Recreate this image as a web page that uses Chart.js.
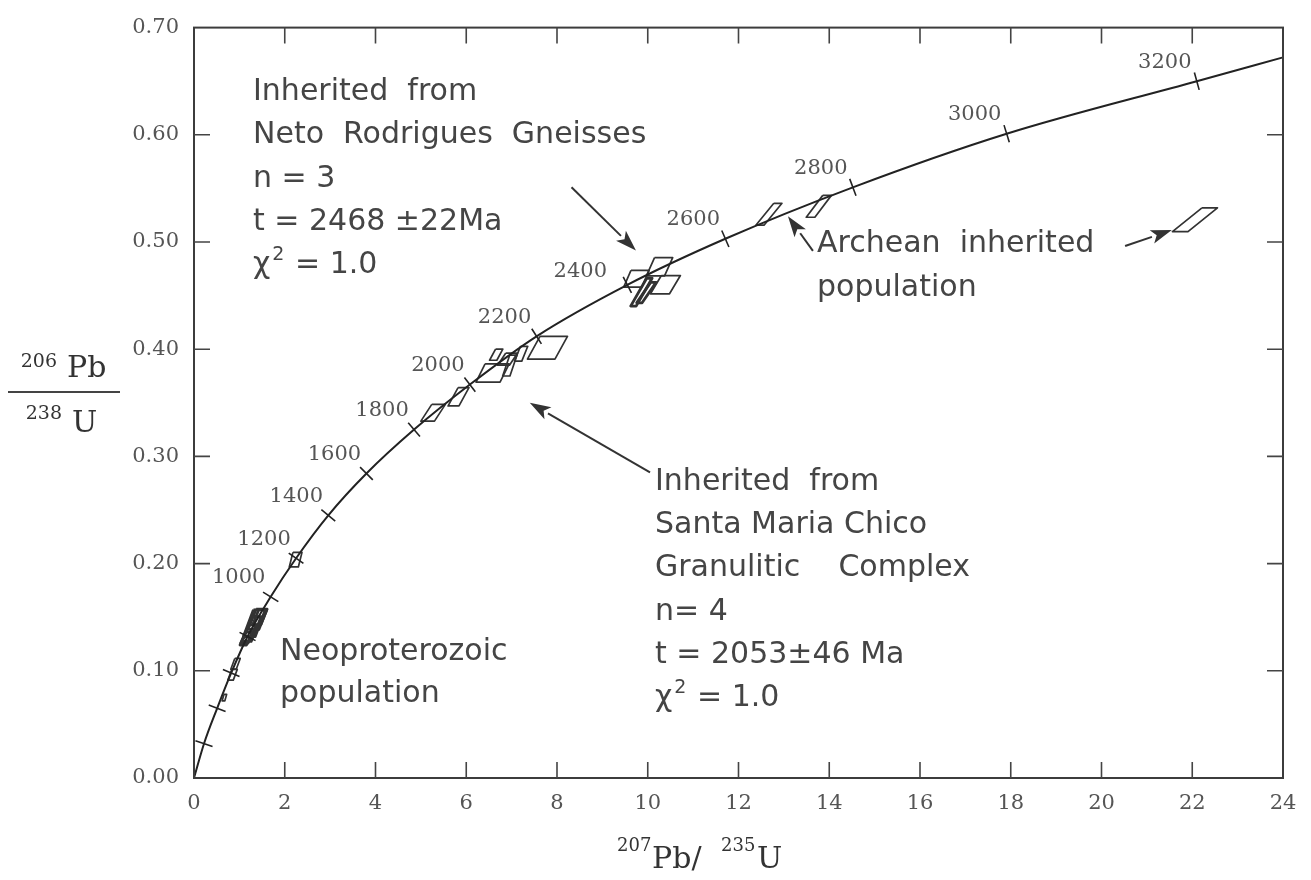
<!DOCTYPE html>
<html><head><meta charset="utf-8">
<script src="https://cdn.jsdelivr.net/npm/chart.js@4.4.1/dist/chart.umd.min.js"></script>
<style>html,body{margin:0;padding:0;background:#fff;}#wrap{width:1311px;height:880px;}</style>
</head><body><div id="wrap"><canvas id="c" width="1311" height="880"></canvas></div>
<script>
// Concordia curve (age in Ma, 207Pb/235U, 206Pb/238U)
const concordiaAge = [0,200,400,600,800,1000,1200,1400,1600,1800,2000,2200,2400,2600,2800,3000,3200,3290];
const concordiaX   = [0,0.22,0.51,0.82,1.18,1.69,2.25,2.96,3.80,4.85,6.08,7.55,9.55,11.71,14.52,17.91,22.10,23.98];
const concordiaY   = [0,0.032,0.065,0.098,0.132,0.169,0.205,0.245,0.284,0.325,0.367,0.412,0.460,0.503,0.551,0.601,0.650,0.672];
const tickAges  = [200,400,600,800,1000,1200,1400,1600,1800,2000,2200,2400,2600,2800,3000,3200];
const labelAges = [1000,1200,1400,1600,1800,2000,2200,2400,2600,2800,3000,3200];

// Axis ticks
const xTickValues = [0,2,4,6,8,10,12,14,16,18,20,22,24];
const yTickValues = [0,0.1,0.2,0.3,0.4,0.5,0.6,0.7];

// Error boxes (centre, half-width, half-height, skew of the top edge)
const boxName = ['b1200','n1','n2','n3','n4','n5','n6','s1','s2','s3','a','b','c','d','e','g2','f','g','h','i','j','k1','k2','ar1','ar2','ar3'];
const boxX    = [2.24,1.33,1.27,1.40,1.20,1.45,1.15,0.915,0.85,0.67,5.27,5.83,6.58,6.66,6.96,6.91,7.21,7.79,9.75,10.26,10.39,9.86,9.97,12.67,13.77,22.06];
const boxY    = [0.2037,0.1444,0.1389,0.1481,0.1343,0.1500,0.1300,0.1065,0.0963,0.0750,0.3407,0.3556,0.3778,0.3949,0.3847,0.3907,0.3958,0.4014,0.4657,0.4769,0.4602,0.4532,0.4528,0.5259,0.5333,0.5208];
const boxHW   = [0.10,0.13,0.10,0.12,0.08,0.09,0.07,0.06,0.06,0.03,0.15,0.12,0.265,0.08,0.08,0.13,0.08,0.303,0.20,0.20,0.21,0.06,0.06,0.09,0.095,0.171];
const boxHH   = [0.0068,0.0125,0.0115,0.0095,0.0085,0.007,0.006,0.005,0.005,0.003,0.0078,0.0085,0.0085,0.0052,0.0097,0.0056,0.0069,0.0106,0.0078,0.0085,0.0085,0.013,0.0095,0.0102,0.0102,0.0111];
const boxSkew = [0.04,0.11,0.11,0.09,0.09,0.066,0.066,0.044,0.044,0.02,0.12,0.11,0.10,0.066,0.077,0.088,0.066,0.138,0.08,0.09,0.12,0.176,0.154,0.198,0.182,0.325];

// Arrows: [fromX, fromY, toX, toY] in data units
const arrowFromX = [8.32, 13.64, 20.52, 10.05];
const arrowFromY = [0.551, 0.4917, 0.4963, 0.2852];
const arrowToX   = [9.74, 13.09, 21.55, 7.40];
const arrowToY   = [0.492, 0.5241, 0.5111, 0.350];

const INK = '#333333';
const concordiaPts = concordiaX.map((x,i)=>({x, y:concordiaY[i]}));
const tickPts = tickAges.map(a=>{const k=concordiaAge.indexOf(a);return {x:concordiaX[k], y:concordiaY[k]};});

function boxPoints(i){
  const cx=boxX[i], cy=boxY[i], w=boxHW[i], h=boxHH[i], s=boxSkew[i];
  return [{x:cx-w+s,y:cy+h},{x:cx+w+s,y:cy+h},{x:cx+w-s,y:cy-h},{x:cx-w-s,y:cy-h},{x:cx-w+s,y:cy+h}];
}
const boxDatasets = boxName.map((nm,i)=>{
  const dense = nm[0]==='n' || nm[0]==='k';
  return {
    label: nm, data: boxPoints(i), showLine: true, pointRadius: 0, tension: 0,
    borderColor: INK, borderWidth: dense ? 2.8 : 1.7, borderJoinStyle: 'round',
    backgroundColor: dense ? 'rgba(60,60,60,0.7)' : 'rgba(0,0,0,0)', fill: dense ? true : false
  };
});

const deco = {
  id: 'deco',
  afterDraw(chart){
    const c = chart.ctx, a = chart.chartArea, xs = chart.scales.x, ys = chart.scales.y;
    c.save();
    // frame
    c.strokeStyle = '#3c3c3c'; c.lineWidth = 2;
    c.strokeRect(a.left, a.top, a.right-a.left, a.bottom-a.top);
    // inward ticks
    c.lineWidth = 1.6; c.strokeStyle = '#444';
    const TL = 16;
    xs.ticks.forEach(t=>{
      if (t.value<=xs.min || t.value>=xs.max) return;
      const p = xs.getPixelForValue(t.value);
      c.beginPath(); c.moveTo(p,a.bottom); c.lineTo(p,a.bottom-TL); c.moveTo(p,a.top); c.lineTo(p,a.top+TL); c.stroke();
    });
    ys.ticks.forEach(t=>{
      if (t.value<=ys.min+1e-9 || t.value>=ys.max-1e-9) return;
      const p = ys.getPixelForValue(t.value);
      c.beginPath(); c.moveTo(a.left,p); c.lineTo(a.left+TL,p); c.moveTo(a.right,p); c.lineTo(a.right-TL,p); c.stroke();
    });
    // age labels on concordia
    c.fillStyle = '#555'; c.font = '21px "DejaVu Serif"'; c.textAlign='center'; c.textBaseline='middle';
    labelAges.forEach(age=>{
      const k = concordiaAge.indexOf(age);
      const px = xs.getPixelForValue(concordiaX[k]), py = ys.getPixelForValue(concordiaY[k]);
      let dx=-32, dy=-19;
      if (age===2400){dx=-47; dy=-13;}
      c.fillText(String(age), px+dx, py+dy);
    });
    // arrows
    c.strokeStyle = INK; c.fillStyle = INK; c.lineWidth = 2;
    arrowFromX.forEach((fx,i)=>{
      const x1=xs.getPixelForValue(fx), y1=ys.getPixelForValue(arrowFromY[i]);
      const x2=xs.getPixelForValue(arrowToX[i]), y2=ys.getPixelForValue(arrowToY[i]);
      const ang=Math.atan2(y2-y1,x2-x1), L=21, W=7;
      const bx=x2-Math.cos(ang)*L, by=y2-Math.sin(ang)*L;
      c.beginPath(); c.moveTo(x1,y1); c.lineTo(bx,by); c.stroke();
      c.beginPath(); c.moveTo(x2,y2);
      c.lineTo(bx+Math.sin(ang)*W, by-Math.cos(ang)*W);
      c.lineTo(bx+Math.cos(ang)*5, by+Math.sin(ang)*5);
      c.lineTo(bx-Math.sin(ang)*W, by+Math.cos(ang)*W);
      c.closePath(); c.fill();
    });
    // annotation text
    c.fillStyle = '#454545'; c.textAlign='left'; c.textBaseline='alphabetic';
    const F = '30px "DejaVu Sans"', FS = '19px "DejaVu Sans"';
    function lines(x, y0, dy, arr){
      arr.forEach((s,i)=>{
        const y=y0+i*dy;
        if (s==='CHI'){
          c.font=F; c.fillText('\u03C7', x, y); const w=c.measureText('\u03C7').width;
          c.font=FS; c.fillText('2', x+w+2, y-13); const w2=c.measureText('2').width;
          c.font=F; c.fillText(' = 1.0', x+w+w2+3, y);
        } else { c.font=F; c.fillText(s, x, y); }
      });
    }
    lines(253, 100, 43.3, ['Inherited  from','Neto  Rodrigues  Gneisses','n = 3','t = 2468 \u00B122Ma','CHI']);
    lines(655, 490, 43.2, ['Inherited  from','Santa Maria Chico','Granulitic    Complex','n= 4','t = 2053\u00B146 Ma','CHI']);
    lines(817, 252, 44, ['Archean  inherited','population']);
    lines(280, 660, 42, ['Neoproterozoic','population']);
    // y axis title (fraction)
    c.fillStyle='#333';
    c.textAlign='right'; c.font='19px "DejaVu Serif"'; c.fillText('206', 57, 367);
    c.textAlign='left'; c.font='30px "DejaVu Serif"'; c.fillText('Pb', 67, 377);
    c.textAlign='right'; c.font='19px "DejaVu Serif"'; c.fillText('238', 62, 419);
    c.textAlign='left'; c.font='30px "DejaVu Serif"'; c.fillText('U', 72, 432);
    c.strokeStyle='#444'; c.lineWidth=2; c.beginPath(); c.moveTo(8,392); c.lineTo(120,392); c.stroke();
    // x axis title
    c.textAlign='left';
    c.font='18px "DejaVu Serif"'; c.fillText('207', 617, 851);
    c.font='30px "DejaVu Serif"'; c.fillText('Pb/', 652, 868);
    c.font='18px "DejaVu Serif"'; c.fillText('235', 721, 851);
    c.font='30px "DejaVu Serif"'; c.fillText('U', 757, 868);
    c.restore();
  }
};

new Chart(document.getElementById('c'), {
  type: 'scatter',
  data: { datasets: [
    { label:'concordia', data: concordiaPts, showLine:true, pointRadius:0, borderColor:'#222', borderWidth:2, cubicInterpolationMode:'monotone' },
    { label:'ageTicks', data: tickPts, showLine:false, pointStyle:'line', pointRadius:9, borderColor:'#222', pointBorderWidth:1.6, borderWidth:1.6,
      rotation: (ctx)=>{
        const ch=ctx.chart, xs=ch.scales.x, ys=ch.scales.y;
        if (!xs || !ys || ctx.dataIndex===undefined) return 0;
        const k = concordiaAge.indexOf(tickAges[ctx.dataIndex]);
        const a=Math.max(k-1,0), b=Math.min(k+1,concordiaX.length-1);
        const dx=xs.getPixelForValue(concordiaX[b])-xs.getPixelForValue(concordiaX[a]);
        const dy=ys.getPixelForValue(concordiaY[b])-ys.getPixelForValue(concordiaY[a]);
        return Math.atan2(dy,dx)*180/Math.PI+90;
      } },
    ...boxDatasets
  ]},
  options: {
    responsive:false, animation:false,
    layout:{ padding:{left:0, top:22, right:28, bottom:0}, autoPadding:false },
    plugins:{ legend:{display:false}, tooltip:{enabled:false} },
    scales:{
      x:{ type:'linear', min:0, max:24,
          afterBuildTicks:(s)=>{ s.ticks = xTickValues.map(v=>({value:v})); },
          afterFit:(s)=>{ s.height = 102; },
          grid:{display:false, drawTicks:false}, border:{display:false},
          ticks:{ padding:13, color:'#555', font:{family:'DejaVu Serif', size:21}, callback:(v)=>String(v), maxRotation:0, autoSkip:false } },
      y:{ type:'linear', min:0, max:0.7,
          afterBuildTicks:(s)=>{ s.ticks = yTickValues.map(v=>({value:v})); },
          afterFit:(s)=>{ s.width = 194; },
          grid:{display:false, drawTicks:false}, border:{display:false},
          ticks:{ padding:15, color:'#555', font:{family:'DejaVu Serif', size:21}, callback:(v)=>Number(v).toFixed(2), autoSkip:false } }
    }
  },
  plugins:[deco]
});
</script></body></html>
